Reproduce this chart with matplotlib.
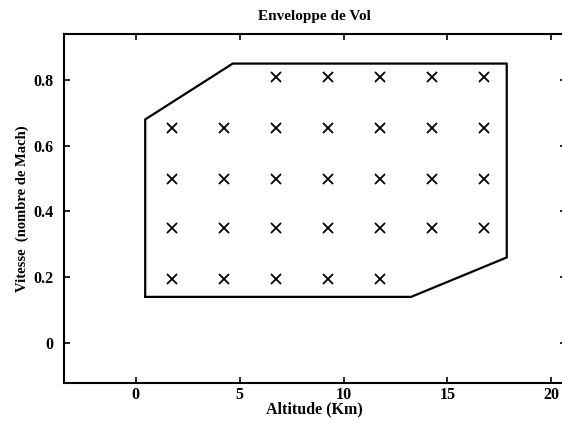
import matplotlib
matplotlib.use("Agg")
import matplotlib.pyplot as plt

# Flight envelope polygon (altitude km, Mach)
env_alt = [0.46, 0.46, 4.67, 17.85, 17.85, 13.25, 0.46]
env_mach = [0.14, 0.68, 0.85, 0.85, 0.26, 0.14, 0.14]

# Test points per Mach row
row_mach = [0.81, 0.655, 0.50, 0.35, 0.195]
row_alts = [
    [6.75, 9.25, 11.75, 14.25, 16.75],
    [1.75, 4.25, 6.75, 9.25, 11.75, 14.25, 16.75],
    [1.75, 4.25, 6.75, 9.25, 11.75, 14.25, 16.75],
    [1.75, 4.25, 6.75, 9.25, 11.75, 14.25, 16.75],
    [1.75, 4.25, 6.75, 9.25, 11.75],
]

xticks = [0, 5, 10, 15, 20]
yticks = [0, 0.2, 0.4, 0.6, 0.8]
yticklabels = ["0", "0.2", "0.4", "0.6", "0.8"]

plt.rcParams['font.family'] = ['Liberation Serif', 'DejaVu Serif']

W, H = 562, 426
fig = plt.figure(figsize=(W / 100, H / 100), dpi=100)
left, right, top, bottom = 63.5, 566, 34, 383.3
ax = fig.add_axes([left / W, (H - bottom) / H, (right - left) / W, (bottom - top) / H])

ax.plot(env_alt, env_mach, color='black', lw=1.6)
for m, alts in zip(row_mach, row_alts):
    ax.plot(alts, [m] * len(alts), linestyle='none', marker='x', color='black',
            markersize=6.5, markeredgewidth=1.3)

ax.set_xlim(-3.47, 20.7)
ax.set_ylim(-0.123, 0.94)
ax.set_xticks(xticks)
ax.set_yticks(yticks)
ax.set_yticklabels(yticklabels)
ax.tick_params(direction='in', length=4, width=1.2, top=True, right=True,
               labelsize=11.5, pad=2.5)
ax.tick_params(axis='y', pad=7)
for lab in ax.get_xticklabels() + ax.get_yticklabels():
    lab.set_fontweight('bold')
for s in ax.spines.values():
    s.set_linewidth(1.5)

ax.set_title("Enveloppe de Vol", fontsize=11, fontweight='bold', pad=10)
ax.set_xlabel("Altitude (Km)", fontsize=11.5, fontweight='bold', labelpad=-1)
ax.set_ylabel("Vitesse  (nombre de Mach)", fontsize=10.5, fontweight='bold', labelpad=3)

fig.savefig("out.png", dpi=100)
